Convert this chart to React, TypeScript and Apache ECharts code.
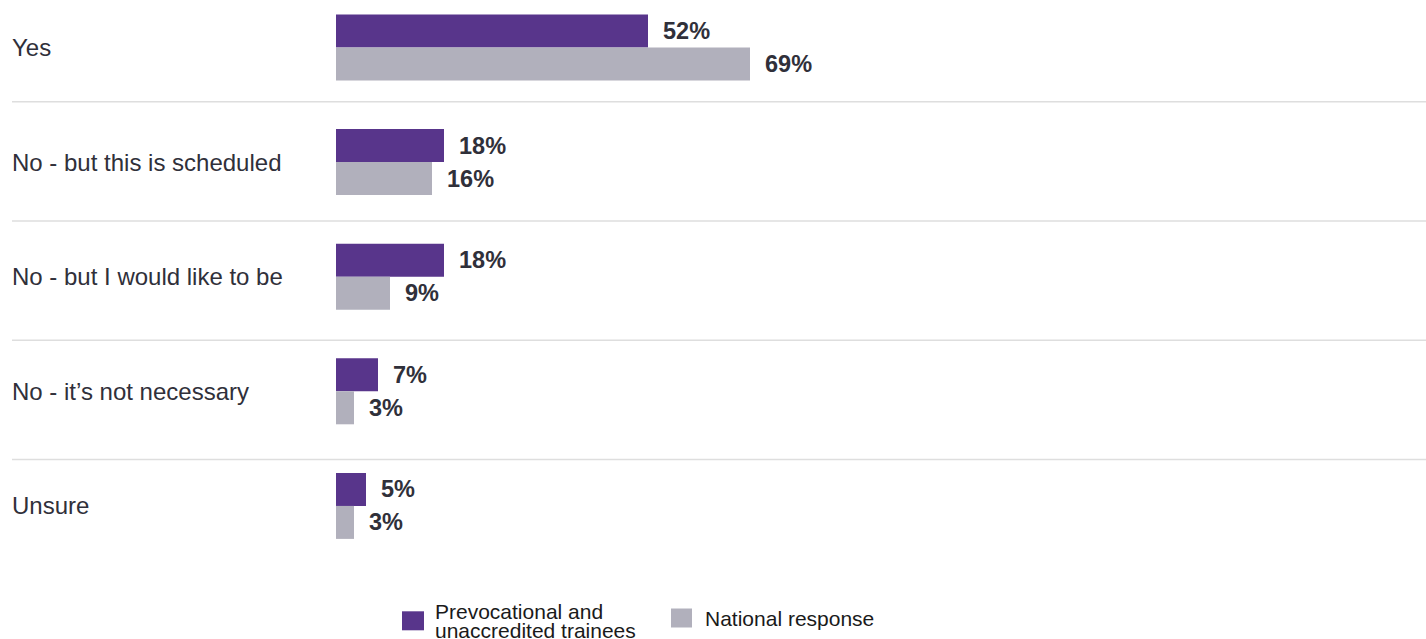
import React, { useEffect, useRef } from "react";
import * as echarts from "echarts";

const categories = [
  "Yes",
  "No - but this is scheduled",
  "No - but I would like to be",
  "No - it\u2019s not necessary",
  "Unsure",
];
const seriesNames = ["Prevocational and\nunaccredited trainees", "National response"];
const prevocational = [52, 18, 18, 7, 5];
const national = [69, 16, 9, 3, 3];

// The chart div is shifted up by OFFSET px so the first band can start above the window
const OFFSET = 20;
const separatorYs = [101.7, 221, 340.3, 459.6];

const FONT = "'Liberation Sans', Arial, sans-serif";
const PURPLE = "#58358b";
const GREY = "#b1b0bc";
const TEXT = "#30303a";

export default function App() {
  const ref = useRef<HTMLDivElement>(null);
  useEffect(() => {
    if (!ref.current) return;
    const chart = echarts.init(ref.current, null, { renderer: "svg" });
    const label = {
      show: true,
      position: "right",
      distance: 15,
      formatter: "{c}%",
      color: TEXT,
      fontFamily: FONT,
      fontWeight: "bold",
      fontSize: 23.5,
    };
    chart.setOption({
      animation: false,
      backgroundColor: "#ffffff",
      textStyle: { fontFamily: FONT },
      grid: { left: 336, top: OFFSET - 9.8, width: 600, height: 573 },
      xAxis: {
        type: "value",
        min: 0,
        max: 100,
        show: false,
      },
      yAxis: {
        type: "category",
        data: categories,
        inverse: true,
        axisLine: { show: false },
        axisTick: { show: false },
        splitLine: { show: false },
        axisLabel: {
          align: "left",
          margin: 324,
          color: TEXT,
          fontFamily: FONT,
          fontSize: 24,
        },
      },
      legend: [
        {
          data: [seriesNames[0]],
          left: 402,
          top: OFFSET + 601,
          padding: 0,
          itemWidth: 22,
          itemHeight: 19,
          icon: "rect",
          selectedMode: false,
          textStyle: {
            color: "#1a1a1a",
            fontFamily: FONT,
            fontSize: 21,
            lineHeight: 18.6,
            padding: [0, 0, 0, 6],
          },
        },
        {
          data: [seriesNames[1]],
          left: 671,
          top: OFFSET + 602,
          padding: 0,
          itemWidth: 21,
          itemHeight: 19,
          icon: "rect",
          selectedMode: false,
          textStyle: {
            color: "#1a1a1a",
            fontFamily: FONT,
            fontSize: 21,
            lineHeight: 18,
            padding: [14, 0, 0, 8],
          },
        },
      ],
      graphic: separatorYs.map((y) => ({
        type: "line",
        shape: { x1: 12, y1: y + OFFSET, x2: 1426, y2: y + OFFSET },
        style: { stroke: "#dedede", lineWidth: 1.5 },
        silent: true,
      })),
      series: [
        {
          name: seriesNames[0],
          type: "bar",
          data: prevocational,
          barWidth: 33,
          barGap: "0%",
          itemStyle: { color: PURPLE },
          label,
        },
        {
          name: seriesNames[1],
          type: "bar",
          data: national,
          barWidth: 33,
          barGap: "0%",
          itemStyle: { color: GREY },
          label,
        },
      ],
    });
    return () => chart.dispose();
  }, []);
  return (
    <div
      ref={ref}
      style={{ position: "fixed", left: 0, top: -OFFSET, width: 1426, height: 639 + OFFSET }}
    />
  );
}
